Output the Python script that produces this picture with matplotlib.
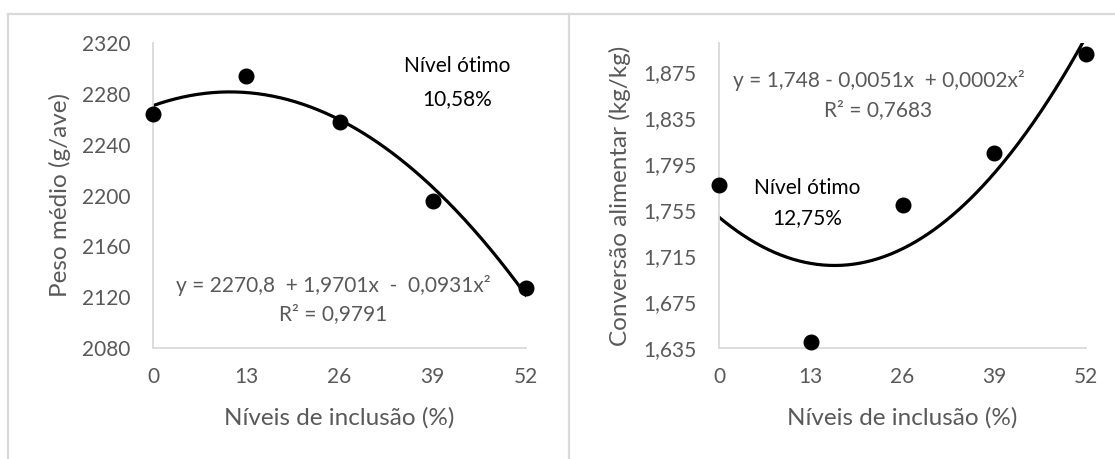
import numpy as np
import matplotlib
matplotlib.use("Agg")
import matplotlib.pyplot as plt
from matplotlib.lines import Line2D

plt.rcParams['font.family'] = ['Lato', 'DejaVu Sans']

# ---- data ----
niveis = [0, 13, 26, 39, 52]
peso_medio = [2264.4, 2294.3, 2257.6, 2195.9, 2127.2]
conversao = [1.7766, 1.6400, 1.7592, 1.8047, 1.8902]

peso_ticks = [2080, 2120, 2160, 2200, 2240, 2280, 2320]
conv_ticks = [1.635, 1.675, 1.715, 1.755, 1.795, 1.835, 1.875]
conv_tick_labels = ['1,635', '1,675', '1,715', '1,755', '1,795', '1,835', '1,875']

xlabel = 'Níveis de inclusão (%)'
ylabel_left = 'Peso médio (g/ave)'
ylabel_right = 'Conversão alimentar (kg/kg)'
eq_left = 'y = 2270,8  + 1,9701x  -  0,0931x²'
r2_left = 'R² = 0,9791'
eq_right = 'y = 1,748 - 0,0051x  + 0,0002x²'
r2_right = 'R² = 0,7683'
otimo_label = 'Nível ótimo'
otimo_left = '10,58%'
otimo_right = '12,75%'

GRAY = '#595959'
AXC = '#d9d9d9'
FS = 15
FS_LAB = 17.5

W, H = 1115, 459
fig = plt.figure(figsize=(W / 100, H / 100), dpi=100)
fig.patch.set_facecolor('white')

# panel borders
for (x0, y0, x1, y1) in [(8, 14, 1115, 14), (8, 14, 8, 459), (569, 14, 569, 459)]:
    fig.add_artist(Line2D([x0 / W, x1 / W], [1 - y0 / H, 1 - y1 / H],
                          transform=fig.transFigure, color=AXC, lw=1.6))

def style(ax, ylim, yticks, yticklabels):
    ax.set_xlim(0, 52)
    ax.set_ylim(*ylim)
    ax.set_xticks(niveis)
    ax.set_xticklabels([str(v) for v in niveis])
    ax.set_yticks(yticks)
    ax.set_yticklabels(yticklabels)
    for s in ['top', 'right']:
        ax.spines[s].set_visible(False)
    for s in ['left', 'bottom']:
        ax.spines[s].set_color(AXC)
        ax.spines[s].set_linewidth(1.3)
    ax.tick_params(axis='both', length=0, labelsize=FS, labelcolor=GRAY)
    ax.tick_params(axis='y', pad=16)
    ax.tick_params(axis='x', pad=14)
    ax.set_facecolor('none')

def trend(ax, x, y):
    coef = np.polyfit(x, y, 2)
    xs = np.linspace(0, 52, 300)
    ax.plot(xs, np.polyval(coef, xs), color='black', lw=2.3, zorder=2)
    ax.plot(x, y, 'o', color='black', ms=10.5, zorder=3, clip_on=False)

# ---- left panel ----
ax1 = fig.add_axes([153 / W, 1 - 348 / H, 373 / W, 305 / H])
style(ax1, (2080, 2320), peso_ticks, [str(v) for v in peso_ticks])
trend(ax1, niveis, peso_medio)
ax1.set_xlabel(xlabel, fontsize=FS_LAB, color=GRAY)
ax1.set_ylabel(ylabel_left, fontsize=FS_LAB, color=GRAY)
ax1.xaxis.set_label_coords(0.5, -70 / 305)
ax1.xaxis.label.set_va('center')
ax1.yaxis.set_label_coords(-93 / 373, 0.5)
ax1.yaxis.label.set_va('center')
ax1.text(42.4, 2301.7, otimo_label, fontsize=FS, color='black', ha='center', va='center')
ax1.text(42.4, 2275.9, otimo_left, fontsize=FS, color='black', ha='center', va='center')
ax1.text(25.1, 2129, eq_left, fontsize=FS, color=GRAY, ha='center', va='center')
ax1.text(25.1, 2106.7, r2_left, fontsize=FS, color=GRAY, ha='center', va='center')

# ---- right panel ----
ax2 = fig.add_axes([719 / W, 1 - 348 / H, 367 / W, 305 / H])
style(ax2, (1.635, 1.9), conv_ticks, conv_tick_labels)
trend(ax2, niveis, conversao)
ax2.set_xlabel(xlabel, fontsize=FS_LAB, color=GRAY)
ax2.set_ylabel(ylabel_right, fontsize=FS_LAB, color=GRAY)
ax2.xaxis.set_label_coords(0.5, -70 / 305)
ax2.xaxis.label.set_va('center')
ax2.yaxis.set_label_coords(-99 / 367, 0.5)
ax2.yaxis.label.set_va('center')
ax2.text(12.56, 1.7743, otimo_label, fontsize=FS, color='black', ha='center', va='center')
ax2.text(12.56, 1.7482, otimo_right, fontsize=FS, color='black', ha='center', va='center')
ax2.text(22.6, 1.8672, eq_right, fontsize=FS, color=GRAY, ha='center', va='center')
ax2.text(22.6, 1.8416, r2_right, fontsize=FS, color=GRAY, ha='center', va='center')

fig.savefig('out.png', dpi=100, facecolor='white')
